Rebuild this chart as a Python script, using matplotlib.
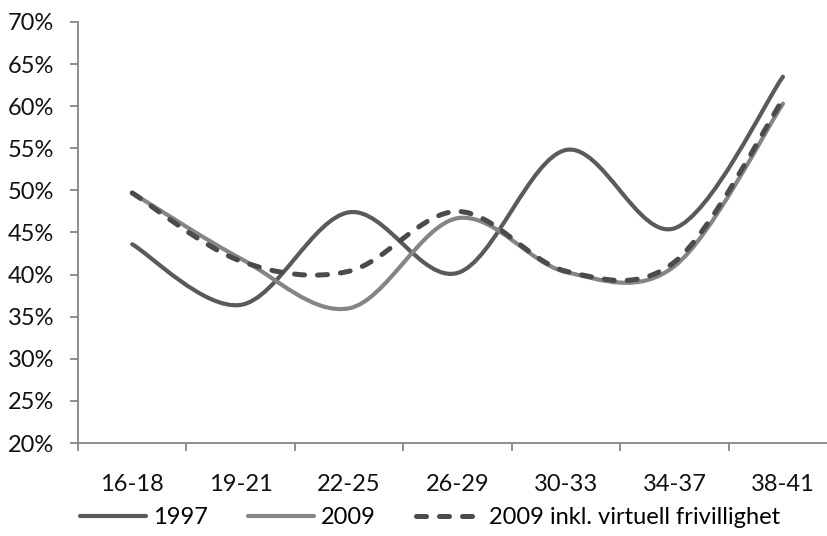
import matplotlib
matplotlib.use("Agg")
import matplotlib.pyplot as plt
from matplotlib.path import Path
from matplotlib.patches import PathPatch
from matplotlib.lines import Line2D
from matplotlib.ticker import FuncFormatter

plt.rcParams['font.family'] = ['Lato', 'DejaVu Sans']

categories = ['16-18', '19-21', '22-25', '26-29', '30-33', '34-37', '38-41']
v1997 = [43.6, 36.4, 47.4, 40.2, 54.8, 45.5, 63.5]
v2009 = [49.7, 41.9, 36.0, 46.7, 40.3, 41.0, 60.3]
v2009_virt = [49.7, 41.6, 40.4, 47.5, 40.4, 41.5, 60.8]
labels = ['1997', '2009', '2009 inkl. virtuell frivillighet']


def smooth_path(ys):
    # excel-like smoothed line: cubic bezier through the points
    xs = list(range(len(ys)))
    n = len(ys)
    verts = [(xs[0], ys[0])]
    codes = [Path.MOVETO]
    for i in range(n - 1):
        i0 = max(i - 1, 0)
        i3 = min(i + 2, n - 1)
        c1 = (xs[i] + (xs[i + 1] - xs[i0]) / 6, ys[i] + (ys[i + 1] - ys[i0]) / 6)
        c2 = (xs[i + 1] - (xs[i3] - xs[i]) / 6, ys[i + 1] - (ys[i3] - ys[i]) / 6)
        verts += [c1, c2, (xs[i + 1], ys[i + 1])]
        codes += [Path.CURVE4] * 3
    return Path(verts, codes)


fig = plt.figure(figsize=(8.27, 5.36), dpi=100)
ax = fig.add_axes([0.0943, 0.1735, 0.918, 0.7855])

styles = [
    dict(color='#5a5a5a', lw=3.0, ls='-'),
    dict(color='#858585', lw=3.0, ls='-'),
    dict(color='#4b4b4b', lw=3.6, ls=(0, (2.0, 2.6))),
]
handles = []
for ys, st, lab in zip([v1997, v2009, v2009_virt], styles, labels):
    patch = PathPatch(smooth_path(ys), facecolor='none', edgecolor=st['color'],
                      lw=st['lw'], linestyle=st['ls'], capstyle='round',
                      joinstyle='round')
    ax.add_patch(patch)
    h = Line2D([], [], color=st['color'], lw=st['lw'], linestyle=st['ls'],
               dash_capstyle='round', solid_capstyle='round')
    handles.append(h)

ax.set_xlim(-0.5, len(categories) - 0.5)
ax.set_ylim(20, 70)
ax.set_yticks(range(20, 71, 5))
ax.yaxis.set_major_formatter(FuncFormatter(lambda v, p: '%d%%' % v))
ax.set_xticks([i - 0.5 for i in range(len(categories) + 1)])
ax.set_xticklabels([])
ax.set_xticks(range(len(categories)), minor=True)
ax.set_xticklabels(categories, minor=True)

for s in ['top', 'right']:
    ax.spines[s].set_visible(False)
for s in ['left', 'bottom']:
    ax.spines[s].set_color('#868686')
    ax.spines[s].set_linewidth(1.3)

ax.tick_params(axis='y', which='major', length=6, width=1.3, color='#868686',
               labelsize=17, pad=11, labelcolor='#111111')
ax.tick_params(axis='x', which='major', length=6, width=1.3, color='#868686',
               direction='out')
ax.tick_params(axis='x', which='minor', length=0, labelsize=17, pad=22,
               labelcolor='#111111')

fig.legend(handles, labels, loc='center', ncol=3, frameon=False, fontsize=17,
           bbox_to_anchor=(0.52, 0.034), handlelength=2.8, handletextpad=0.3,
           columnspacing=1.7)

fig.savefig('out.png', dpi=100)
